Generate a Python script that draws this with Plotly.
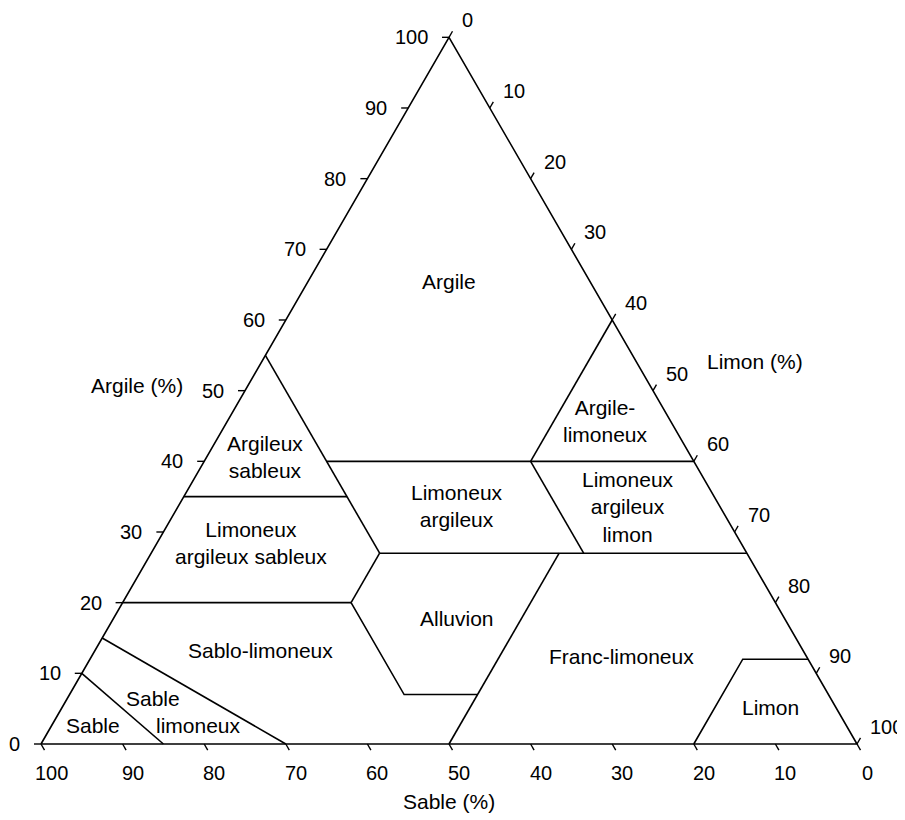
import math
import plotly.graph_objects as go

# Triangle texture diagram (clay / silt / sand, %)
TICKS = list(range(0, 101, 10))

# outline of the triangle: (clay, silt)
outline_clay = [0, 0, 100, 0]
outline_silt = [0, 100, 0, 0]

# class boundaries, each one a polyline given as clay values and silt values
b_sand45_clay, b_sand45_silt = [55, 27], [0, 28]
b_clay40_clay, b_clay40_silt = [40, 40], [15, 60]
b_siltyclay_clay, b_siltyclay_silt = [40, 60], [40, 40]
b_clay35_clay, b_clay35_silt = [35, 35], [0, 20]
b_clay27_clay, b_clay27_silt = [27, 27], [28, 73]
b_sand20_clay, b_sand20_silt = [40, 27], [40, 53]
b_clay20_clay, b_clay20_silt = [20, 20], [0, 28]
b_silt28_clay, b_silt28_silt = [27, 20], [28, 28]
b_loam_clay, b_loam_silt = [20, 7, 7], [28, 41, 50]
b_silt50_clay, b_silt50_silt = [0, 27], [50, 50]
b_silt80_clay, b_silt80_silt = [0, 12, 12], [80, 80, 88]
b_sandyloam_clay, b_sandyloam_silt = [15, 0], [0, 30]
b_sand_clay, b_sand_silt = [10, 0], [0, 15]

# class names and where they sit (clay, silt)
class_names = ["Argile", "Argileux<br>sableux", "Argile-<br>limoneux",
               "Limoneux<br>argileux", "Limoneux<br>argileux<br>limon",
               "Limoneux<br>argileux sableux", "Alluvion", "Franc-limoneux",
               "Sablo-limoneux", "Sable", "Sable", "limoneux", "Limon"]
class_clay = [65.5, 40.6, 45.7, 33.7, 33.5, 28.4, 17.7, 12.4, 13.3, 2.6, 6.4, 2.6, 5.1]
class_silt = [17.2, 7.1, 46.3, 34.1, 55.2, 11.5, 42.1, 65.0, 20.2, 5.1, 10.5, 18.0, 86.8]

H = math.sqrt(3) / 2
PX = 8.16          # pixels per unit
X0, Y0 = 41, 744   # where the "100 % sable" corner sits on the page
PAGE_SHIFT = 8     # the page body adds 8px all round
TICK_LEN = 0.86


def to_xy(clay, silt):
    return [s + c / 2 for c, s in zip(clay, silt)], [c * H for c in clay]


def page(px, py):
    # page pixel position -> data position
    return (px - X0) / PX, (Y0 - py) / PX


fig = go.Figure()

font = dict(family="Liberation Sans, Arial, Helvetica, sans-serif", size=20, color="black")
label_font = dict(font, size=21)

# outline + boundaries in one trace
bx, by = [], []
for cl, si in [(outline_clay, outline_silt), (b_sand45_clay, b_sand45_silt),
               (b_clay40_clay, b_clay40_silt), (b_siltyclay_clay, b_siltyclay_silt),
               (b_clay35_clay, b_clay35_silt), (b_clay27_clay, b_clay27_silt),
               (b_sand20_clay, b_sand20_silt), (b_clay20_clay, b_clay20_silt),
               (b_silt28_clay, b_silt28_silt), (b_loam_clay, b_loam_silt),
               (b_silt50_clay, b_silt50_silt), (b_silt80_clay, b_silt80_silt),
               (b_sandyloam_clay, b_sandyloam_silt), (b_sand_clay, b_sand_silt)]:
    x, y = to_xy(cl, si)
    bx += x + [None]
    by += y + [None]

fig.add_trace(go.Scatter(x=bx, y=by, mode="lines",
                         line=dict(color="black", width=1.6),
                         hoverinfo="skip", showlegend=False))

# tick marks on the three sides
tx, ty = [], []
annotations = []
for t in TICKS:
    # left side: clay
    x0, y0 = t / 2, t * H
    tx += [x0, x0 - TICK_LEN, None]
    ty += [y0, y0, None]
    annotations.append(dict(x=x0, y=y0, text=str(t), xanchor="right", yanchor="middle",
                            xshift=-19, showarrow=False, font=font))
    # bottom side: sand (100 at the left)
    x0, y0 = 100 - t, 0
    tx += [x0, x0 + TICK_LEN * 0.5, None]
    ty += [y0, y0 - TICK_LEN * H, None]
    annotations.append(dict(x=x0, y=y0, text=str(t), xanchor="center", yanchor="middle",
                            xshift=10, yshift=-29, showarrow=False, font=font))
    # right side: silt (0 at the top)
    x0, y0 = 50 + t / 2, (100 - t) * H
    tx += [x0, x0 + TICK_LEN * 0.5, None]
    ty += [y0, y0 + TICK_LEN * H, None]
    annotations.append(dict(x=x0, y=y0, text=str(t), xanchor="left", yanchor="middle",
                            xshift=11, yshift=17, showarrow=False, font=font))

fig.add_trace(go.Scatter(x=tx, y=ty, mode="lines",
                         line=dict(color="black", width=1.4),
                         hoverinfo="skip", showlegend=False))

# class labels
lx, ly = to_xy(class_clay, class_silt)
for name, x, y in zip(class_names, lx, ly):
    annotations.append(dict(x=x, y=y, text=name, showarrow=False, font=label_font,
                            xanchor="center", yanchor="middle"))

# axis titles
for text, (px, py) in [("Argile (%)", (137, 385)), ("Limon (%)", (755, 361)),
                       ("Sable (%)", (449, 801))]:
    x, y = page(px, py)
    annotations.append(dict(x=x, y=y, text=text, showarrow=False, font=label_font))

fig.update_layout(
    width=905, height=820,
    margin=dict(l=0, r=0, t=0, b=0),
    paper_bgcolor="white", plot_bgcolor="white",
    xaxis=dict(range=[(PAGE_SHIFT - X0) / PX, (905 + PAGE_SHIFT - X0) / PX],
               visible=False, fixedrange=True),
    yaxis=dict(range=[(Y0 - 820 - PAGE_SHIFT) / PX, (Y0 - PAGE_SHIFT) / PX],
               visible=False, fixedrange=True),
    annotations=annotations,
    showlegend=False,
)

fig.write_html("out.html")
